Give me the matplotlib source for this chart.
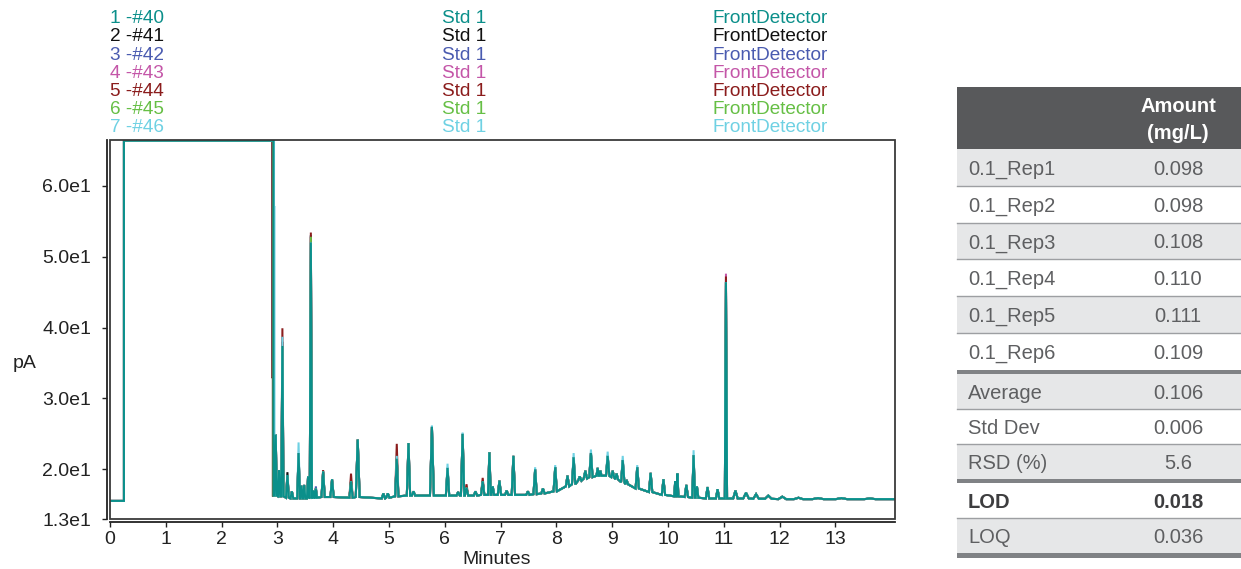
import matplotlib
matplotlib.use("Agg")
import matplotlib.pyplot as plt
from matplotlib.patches import Rectangle

# ---------------- data ----------------
series_names = ["1 -#40", "2 -#41", "3 -#42", "4 -#43", "5 -#44", "6 -#45", "7 -#46"]
sample_names = ["Std 1"] * 7
detector_names = ["FrontDetector"] * 7
series_colors = ["#0b8f8a", "#111111", "#4a5bb0", "#c456a8", "#8b1c1c", "#66bf45", "#6fd1e3"]

pre_level = 15.55          # pA before solvent jump
jump_time = 0.25           # min
top_level = 66.36          # saturated solvent plateau
after_drop = 16.3
drop_times = [2.93, 2.912, 2.918, 2.925, 2.912, 2.93, 2.94]
drop_holds = [None, 33.0, 35.5, None, 33.0, None, 57.0]

peak_t = [2.97, 3.03, 3.09, 3.18, 3.26, 3.38, 3.43, 3.48, 3.55, 3.60, 3.65, 3.69,
          3.82, 3.98, 4.32, 4.44, 4.90, 4.98, 5.14, 5.35, 5.44, 5.77, 6.05, 6.24,
          6.32, 6.39, 6.55, 6.68, 6.80, 6.86, 6.98, 7.11, 7.23, 7.49, 7.62, 7.76,
          7.98, 8.20, 8.31, 8.42, 8.52, 8.62, 8.74, 8.79, 8.92, 9.01, 9.08, 9.19,
          9.26, 9.45, 9.69, 9.92, 10.13, 10.17, 10.33, 10.46, 10.52, 10.71, 10.89, 11.04,
          11.21, 11.40, 11.58, 11.80, 12.05, 12.34, 12.69, 13.11, 13.62]
peak_h = [24.9, 19.9, 37.4, 19.2, 16.9, 22.3, 17.7, 17.8, 19.0, 52.0, 17.0, 17.3,
          19.7, 18.6, 18.3, 24.2, 16.6, 16.6, 21.5, 23.7, 16.9, 26.0, 20.2, 16.8,
          25.0, 17.4, 16.9, 18.3, 22.4, 17.6, 18.4, 17.0, 21.9, 16.9, 20.0, 17.3,
          20.3, 19.1, 21.7, 19.0, 19.8, 22.3, 20.2, 19.8, 21.9, 19.8, 19.4, 21.3,
          18.5, 20.3, 19.5, 18.6, 18.3, 19.4, 17.8, 22.0, 17.6, 17.5, 17.2, 46.4,
          17.0, 16.7, 16.5, 16.3, 16.15, 16.0, 15.95, 15.95, 15.9]
peak_b = [16.3, 16.2, 16.2, 16.0, 15.9, 15.9, 15.9, 15.9, 15.9, 16.0, 15.9, 16.0,
          16.1, 16.1, 16.0, 16.1, 15.9, 16.0, 16.2, 16.3, 16.3, 16.3, 16.3, 16.3,
          16.3, 16.3, 16.3, 16.4, 16.4, 16.4, 16.4, 16.4, 16.4, 16.4, 16.5, 16.6,
          16.9, 17.6, 17.9, 18.4, 18.7, 18.9, 19.1, 19.1, 19.1, 18.9, 18.6, 18.2,
          17.9, 17.3, 16.8, 16.4, 16.2, 16.2, 16.1, 16.0, 16.0, 15.9, 15.9, 15.9,
          15.9, 15.9, 15.85, 15.85, 15.8, 15.8, 15.8, 15.8, 15.8]
peak_w = [0.02, 0.02, 0.02, 0.025, 0.025, 0.025, 0.02, 0.02, 0.02, 0.02, 0.02, 0.02,
          0.03, 0.03, 0.03, 0.035, 0.03, 0.03, 0.03, 0.03, 0.03, 0.035, 0.03, 0.03,
          0.03, 0.03, 0.03, 0.03, 0.025, 0.025, 0.03, 0.03, 0.03, 0.03, 0.03, 0.03,
          0.03, 0.03, 0.03, 0.03, 0.03, 0.03, 0.02, 0.02, 0.03, 0.025, 0.025, 0.03,
          0.025, 0.03, 0.03, 0.03, 0.018, 0.018, 0.03, 0.025, 0.025, 0.03, 0.03, 0.02,
          0.04, 0.05, 0.05, 0.06, 0.07, 0.08, 0.1, 0.1, 0.1]
end_time = 14.07
end_level = 15.8

# apex values that differ from trace 1, per trace
tip_values = [
    {},
    {3.09: 38.0, 3.18: 19.6, 3.60: 53.0},
    {3.60: 53.0, 3.69: 17.6},
    {3.60: 52.8, 11.04: 47.6},
    {3.09: 39.9, 3.60: 53.4, 3.82: 19.9, 4.32: 19.4, 5.14: 23.6, 6.39: 17.9,
     6.68: 18.8, 11.04: 47.2},
    {3.60: 52.8},
    {3.09: 38.7, 3.38: 23.8, 5.14: 21.9, 5.77: 26.2, 6.05: 20.8, 6.32: 25.2,
     7.62: 20.3, 7.98: 20.6, 8.31: 22.3, 8.62: 22.8, 8.92: 22.5, 9.19: 21.9,
     9.45: 20.6, 10.46: 22.7},
]

y_ticks = [13, 20, 30, 40, 50, 60]
y_tick_labels = ["1.3e1", "2.0e1", "3.0e1", "4.0e1", "5.0e1", "6.0e1"]
x_ticks = list(range(0, 14))

table_labels = ["0.1_Rep1", "0.1_Rep2", "0.1_Rep3", "0.1_Rep4", "0.1_Rep5", "0.1_Rep6",
                "Average", "Std Dev", "RSD (%)", "LOD", "LOQ"]
table_values = ["0.098", "0.098", "0.108", "0.110", "0.111", "0.109",
                "0.106", "0.006", "5.6", "0.018", "0.036"]
table_header = "Amount\n(mg/L)"
table_groups = [6, 3, 2]
bold_rows = ["LOD"]

# ---------------- figure ----------------
W, H = 1241, 569
plt.rcParams['font.family'] = ['Liberation Sans', 'DejaVu Sans']
fig = plt.figure(figsize=(W / 100, H / 100), dpi=100)


def px(x, y):
    return x / W, 1 - y / H


ax = fig.add_axes([110 / W, 1 - 519 / H, 785 / W, 379 / H])
ax.set_xlim(0, end_time)
ax.set_ylim(13, 66.45)


def build_trace(k):
    t = [0.0, jump_time, jump_time, drop_times[k]]
    v = [pre_level, pre_level, top_level, top_level]
    d = drop_times[k]
    if drop_holds[k] is not None:
        t += [d, d + 0.008, d + 0.008]
        v += [drop_holds[k], drop_holds[k], after_drop]
    else:
        t += [d]
        v += [after_drop]
    tips = tip_values[k]
    for pt, a, b, w in zip(peak_t, peak_h, peak_b, peak_w):
        a = tips.get(pt, a)
        t += [pt - w, pt, pt + w]
        v += [b, a, b]
    t += [end_time]
    v += [end_level]
    return t, v


draw_order = [1, 2, 3, 4, 5, 6, 0]
for z, k in enumerate(draw_order):
    t, v = build_trace(k)
    ax.plot(t, v, color=series_colors[k], lw=1.45, zorder=2 + z,
            solid_joinstyle='miter')

# frame box
ax.add_patch(Rectangle((0, 0), 1, 1, transform=ax.transAxes, fill=False,
                       lw=1.3, ec='#3a3a3a', clip_on=False, zorder=20))
for s in ['top', 'right']:
    ax.spines[s].set_visible(False)
for s in ['left', 'bottom']:
    ax.spines[s].set_position(('outward', 2.3))
    ax.spines[s].set_linewidth(1.3)
    ax.spines[s].set_color('#222222')

ax.set_yticks(y_ticks)
ax.set_yticklabels(y_tick_labels)
ax.set_xticks(x_ticks)
ax.set_xticklabels([str(x) for x in x_ticks])
ax.tick_params(axis='y', length=3.6, width=1.0, pad=7.6, labelsize=14,
               colors='#222222')
ax.tick_params(axis='x', length=3.6, width=1.0, pad=3.0, labelsize=14,
               colors='#222222')

fig.text(*px(24.5, 363), "pA", ha='center', va='center', fontsize=14,
         color='#222222')
fig.text(*px(497, 564.0), "Minutes", ha='center', va='baseline', fontsize=14,
         color='#222222')

# legend text block
for i in range(len(series_names)):
    yb = 23.3 + 18.15 * i
    c = series_colors[i]
    fig.text(*px(110, yb), series_names[i], color=c, fontsize=13.7, va='baseline')
    fig.text(*px(441.5, yb), sample_names[i], color=c, fontsize=13.7, va='baseline')
    fig.text(*px(713, yb), detector_names[i], color=c, fontsize=13.7, va='baseline')

# ---------------- table ----------------
tab = fig.add_axes([0, 0, 1, 1], zorder=-1)
tab.set_xlim(0, W)
tab.set_ylim(H, 0)
tab.axis('off')

tx0, tx1 = 957, W
tab.add_patch(Rectangle((tx0, 86.7), tx1 - tx0, 149 - 86.7, color='#58595b', lw=0))
hl = table_header.split("\n")
tab.text(1178, 112.3, hl[0], ha='center', va='baseline', color='white',
         fontsize=14.5, fontweight='bold')
tab.text(1178, 139.3, hl[1], ha='center', va='baseline', color='white',
         fontsize=14.5, fontweight='bold')

group_heights = [36.8, 34.8, 35.0]
thick = 4.5
y = 149.0
r = 0
for g, n in enumerate(table_groups):
    h = group_heights[g]
    for j in range(n):
        shade = '#e6e7e8' if r % 2 == 0 else '#ffffff'
        tab.add_patch(Rectangle((tx0, y), tx1 - tx0, h, color=shade, lw=0))
        if j > 0:
            tab.plot([tx0, tx1], [y, y], color='#9d9fa2', lw=1.0)
        lab = table_labels[r]
        bold = lab in bold_rows
        col = '#3d3d3f' if bold else '#5e5f61'
        fw = 'bold' if bold else 'normal'
        tab.text(968, y + h / 2 + 7.3, lab, ha='left', va='baseline',
                 fontsize=14.5, color=col, fontweight=fw)
        tab.text(1178, y + h / 2 + 7.3, table_values[r], ha='center',
                 va='baseline', fontsize=14.5, color=col, fontweight=fw)
        y += h
        r += 1
    tab.add_patch(Rectangle((tx0, y), tx1 - tx0, thick, color='#808285', lw=0))
    y += thick

fig.savefig("out.png", dpi=100)
